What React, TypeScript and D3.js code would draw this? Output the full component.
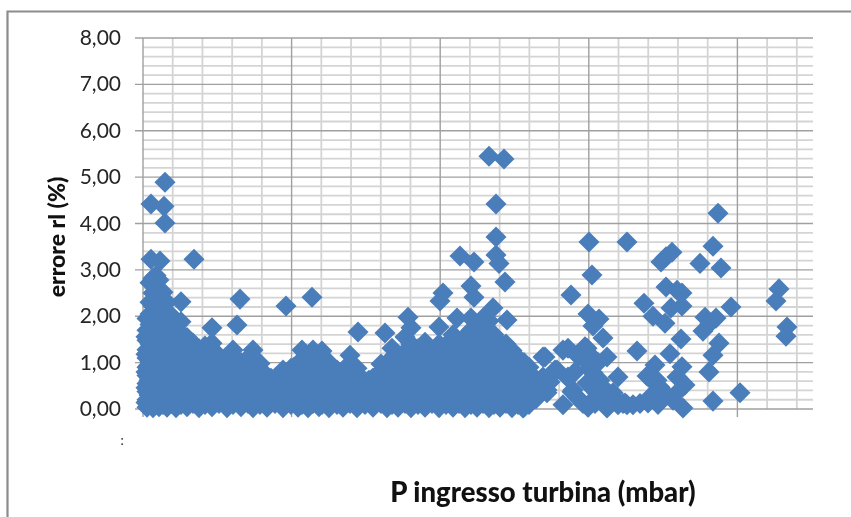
import React from "react";
import * as d3 from "d3";

const W = 851, H = 517;
const yTicks = [0, 1, 2, 3, 4, 5, 6, 7, 8];
const xDomain = [0, 670];
const xMinorStep = 29.72;
const xTitle = "P ingresso turbina (mbar)";
const yTitle = "errore rl (%)";

// sparse points: [P, errore]
const sparsePoints: number[][] = [
  [22,4.89],[8,4.42],[21,4.37],[22,4.01],[8,3.23],[17,3.19],[51,3.23],[97,2.37],[38,2.31],[94,1.81],[69,1.75],
  [346,5.45],[361,5.39],[353,4.42],[353,3.71],[353,3.32],[356,3.14],[317,3.30],[331,3.17],[362,2.74],[300,2.50],[297,2.33],
  [328,2.65],[331,2.41],[350,2.18],[364,1.92],[265,1.98],[314,1.96],[143,2.22],[169,2.41],[215,1.66],[242,1.64],
  [446,3.60],[484,3.60],[449,2.89],[428,2.46],[445,2.05],[456,1.94],[450,1.79],[460,1.53],[494,1.25],
  [575,4.22],[570,3.51],[557,3.14],[578,3.04],[529,3.38],[523,3.28],[518,3.17],[523,2.63],[534,2.56],[539,2.50],
  [501,2.28],[528,2.18],[539,2.22],[510,2.0],[522,1.85],[538,1.51],[562,1.98],[573,1.96],[567,1.85],[560,1.68],
  [588,2.2],[576,1.42],[570,1.16],[566,0.80],[570,0.17],[597,0.35],[636,2.59],[633,2.33],[644,1.77],[643,1.57],
  [420,1.27],[425,1.31],[442,1.34],[464,1.12],[455,1.0],[475,0.69],[425,0.67],[420,0.09],[445,0.04],[464,0.02],
  [484,0.09],[490,0.09],[475,0.09],[505,0.13],[540,0.02],[504,0.71],[512,0.95],[527,1.19],[539,0.91],[542,0.52],
  [517,0.47],[507,0.26],[520,0.3],[530,0.19],[534,0.35],[429,0.37],[434,0.26],[450,0.78],[444,0.56],[460,0.47],
  [470,0.35],[454,0.26],[400,1.12],[412,0.84],[407,0.58],[404,0.35],[390,0.26],[380,0.02],[447,1.0],[436,1.12],
  [432,0.8],[440,0.12],[452,0.12],[466,0.2],[480,0.12],[497,0.12],[515,0.1],[510,0.6],
  [444,1.31],[452,1.06],[440,1.12],[402,1.12],[400,0.69],[414,0.84],[404,0.41],[430,0.41],[425,0.69],[447,0.9],
  [447,0.56],[457,0.62],[470,0.26],[447,0.13],[454,0.34],[437,0.19],[482,0.13],[514,0.62],[519,0.41],[534,0.69],
];

// dense cloud, by column: [P, errore, errore, ...]
const denseColumns: number[][] = [
  [4,.04,.2,.38,.55,.72,.9,1.1,1.28,1.48,1.7,1.95],
  [7,.1,.3,.48,.66,.84,1.02,1.22,1.4,1.6,1.82,2.05,2.3,2.72],
  [10,.03,.22,.42,.6,.8,.98,1.16,1.34,1.56,1.78,2,2.22,2.5,2.82],
  [13,.12,.32,.52,.7,.9,1.08,1.3,1.5,1.72,1.94,2.16,2.38,2.62,2.88],
  [16,.05,.25,.45,.65,.85,1.05,1.25,1.45,1.66,1.88,2.1,2.34,2.55,2.78],
  [20,.1,.3,.55,.8,1.0,1.22,1.44,1.68,1.9,2.12,2.35,2.52],
  [24,.04,.28,.5,.74,.96,1.18,1.4,1.6,1.82,2.05,2.3],
  [28,.12,.36,.6,.85,1.1,1.34,1.58,1.82,2.02],
  [33,.03,.28,.52,.78,1.02,1.28,1.52,1.74,1.9],
  [38,.1,.36,.62,.88,1.14,1.4,1.6,1.88],
  [44,.05,.3,.56,.82,1.08,1.34,1.54],
  [50,.12,.38,.64,.9,1.16,1.42],
  [56,.03,.28,.54,.8,1.06,1.3],
  [62,.1,.36,.62,.88,1.1,1.36],
  [69,.05,.3,.56,.82,1.08,1.42],
  [76,.12,.38,.64,.9,1.15],
  [84,.03,.28,.54,.8,1.08],
  [90,.1,.36,.62,.88,1.27],
  [98,.05,.3,.56,.8,1.0],
  [105,.12,.36,.6,.86,1.1],
  [110,.03,.28,.54,.8,1.27],
  [117,.1,.34,.6,.98],
  [124,.04,.26,.48,.68],
  [132,.12,.34,.6],
  [140,.03,.26,.5,.84],
  [148,.1,.34,.6,.88],
  [155,.04,.28,.52,.78,.98],
  [159,.1,.36,.62,.9,1.27],
  [165,.03,.26,.52,.8,1.04],
  [170,.12,.36,.62,.9,1.27],
  [176,.05,.3,.54,.8,1.05],
  [179,.1,.34,.6,.85,1.25],
  [186,.03,.28,.52,.8,1.0],
  [194,.1,.34,.6,.84],
  [200,.04,.26,.5,.76],
  [207,.12,.36,.62,1.16],
  [214,.03,.28,.52,.88],
  [222,.1,.34,.58],
  [230,.04,.26,.5,.67],
  [238,.12,.36,.6,.97],
  [244,.03,.28,.52,.67],
  [249,.1,.34,.6,.9,1.31],
  [255,.04,.28,.54,.8,1.16],
  [262,.12,.36,.62,.9,1.2,1.55],
  [268,.03,.28,.54,.82,1.1,1.4,1.75],
  [275,.1,.36,.62,.9,1.14,1.3],
  [282,.04,.3,.56,.84,1.1,1.44],
  [289,.12,.38,.64,.9,1.1],
  [296,.03,.28,.54,.82,1.1,1.4,1.77],
  [303,.1,.36,.62,.9,1.16,1.38],
  [310,.04,.3,.56,.84,1.1,1.36,1.6],
  [316,.12,.38,.64,.9,1.16,1.4],
  [322,.03,.28,.54,.8,1.06,1.32,1.56],
  [328,.1,.36,.62,.88,1.14,1.4,1.7,1.96],
  [334,.04,.3,.56,.82,1.08,1.34,1.6,1.8],
  [340,.12,.38,.64,.9,1.16,1.42,1.68,1.96],
  [346,.03,.28,.54,.8,1.06,1.32,1.6,1.9],
  [351,.1,.36,.62,.88,1.14,1.4,1.6],
  [357,.04,.3,.56,.82,1.08,1.34],
  [363,.12,.38,.64,.9,1.16,1.4],
  [369,.03,.28,.54,.8,1.04,1.26],
  [375,.1,.36,.62,.9,1.1],
  [381,.04,.1,.28,.5,.8,1.0],
  [386,.1,.34,.56,.9],
  [393,.22,.42,.64],
];

// extra readings that fill the cloud between the columns above
const fillColumns: number[][] = [
  [3,.14,.46,.8,1.18,1.56],[6,.3,.62,.95,1.3],[12,.16,.5,.84,1.2],[18,.18,.54,.92,1.34],[22,.2,.44,.86,1.3],
  [26,.14,.42,.7,1.0,1.3],[31,.18,.44,.68,.92,1.18],[36,.2,.5,.76,1.02,1.28],[41,.22,.48,.74,1.0,1.26],
  [47,.18,.46,.72,.98,1.24],[53,.2,.48,.74,1.0],[59,.18,.46,.74,.98,1.2],[66,.2,.44,.7,.96],[73,.22,.48,.74,1.0],
  [80,.16,.42,.68,.94],[87,.2,.46,.72,1.0],[94,.18,.44,.68,.94],[101,.22,.46,.7,.94],[107,.18,.44,.7,.96],
  [114,.2,.46,.72],[120,.16,.38,.58,.8],[128,.2,.44,.66],[136,.16,.4,.66],[144,.18,.44,.7],[151,.2,.46,.7,.9],
  [157,.18,.42,.74],[162,.14,.44,.7,.98],[168,.2,.44,.72],[173,.22,.46,.72,.98],[182,.2,.44,.7,.92],
  [190,.16,.42,.66,.9],[197,.2,.46,.72],[204,.18,.4,.64,.92],[210,.2,.44,.7,.84],[218,.18,.42,.68],
  [226,.18,.42,.62],[234,.2,.44,.72],[241,.18,.44,.72],[247,.2,.46,.78,1.06],[252,.18,.44,.7,1.0],
  [258,.2,.48,.76,1.04],[265,.2,.46,.72,1.0,1.3],[271,.18,.44,.72,1.0,1.22],[278,.2,.48,.76,1.02,1.24],
  [285,.22,.46,.74,1.0,1.22],[292,.18,.44,.72,1.0,1.26],[299,.2,.46,.74,1.02,1.28],[306,.2,.48,.76,1.02,1.28],
  [313,.22,.5,.76,1.02,1.26],[319,.2,.46,.72,.98,1.26],[325,.18,.46,.74,1.0,1.26],[331,.2,.48,.74,1.0,1.28,1.56],
  [337,.22,.46,.72,.98,1.24,1.5,1.72],[343,.2,.46,.72,.98,1.24,1.54],[349,.18,.46,.72,1.0,1.26,1.5],
  [354,.22,.48,.74,1.0,1.26,1.48],[360,.2,.46,.72,.98,1.24],[366,.2,.46,.72,.96,1.18],[372,.2,.46,.72,.98],
  [378,.2,.44,.68,.92],[384,.18,.42,.7],[390,.42,.6],
];

const markerColor = "#4a7ebb";

export default function App() {
  const x = d3.scaleLinear().domain(xDomain).range([143, 813]);
  const y = d3.scaleLinear().domain([0, 8]).range([409, 38]);
  const xGrid = d3.range(0, 23).map((i) => i * xMinorStep);
  const yGrid = d3.range(0, 41).map((i) => i * 0.2);
  const diamond = d3.symbol().type(d3.symbolSquare).size(222)();
  const points: number[][] = [
    ...[...denseColumns, ...fillColumns].flatMap((c) => c.slice(1).map((v) => [c[0], v])),
    ...sparsePoints,
  ];
  return (
    <svg
      width={W}
      height={H}
      viewBox={`0 0 ${W} ${H}`}
      style={{ position: "absolute", left: 0, top: 0, background: "#fff", filter: "blur(0.45px)" }}
    >
      <path d={`M7.5,${H}V11.5H${W}`} fill="none" stroke="#8c8c8c" strokeWidth={2.2} />
      <g>
        {yGrid.filter((_, i) => i % 5 !== 0).map((v) => (
          <line key={v} x1={143} x2={813} y1={y(v)} y2={y(v)} stroke="#d4d4d4" strokeWidth={1.8} />
        ))}
        {xGrid.map((v, i) =>
          i % 5 !== 0 ? (
            <line key={v} x1={x(v)} x2={x(v)} y1={38} y2={409} stroke="#d4d4d4" strokeWidth={1.8} />
          ) : null
        )}
        {xGrid.map((v, i) =>
          i % 5 === 0 ? (
            <line key={v} x1={x(v)} x2={x(v)} y1={38} y2={417} stroke="#a0a0a0" strokeWidth={1.4} />
          ) : null
        )}
        {yTicks.map((v) => (
          <line key={v} x1={135} x2={813} y1={y(v)} y2={y(v)} stroke="#a0a0a0" strokeWidth={1.4} />
        ))}
      </g>
      <g fill={markerColor}>
        {points.map((p, i) => (
          <path key={i} d={diamond!} transform={`translate(${x(p[0])},${y(p[1])}) rotate(45)`} />
        ))}
      </g>
      <g fontFamily="Lato, 'Open Sans', sans-serif" fill="#262626">
        {yTicks.map((v) => (
          <text key={v} x={121} y={y(v) + 7} textAnchor="end" fontSize={21}>
            {d3.format(".2f")(v).replace(".", ",")}
          </text>
        ))}
        <text x={122} y={445} textAnchor="middle" fontSize={13}>:</text>
      </g>
      <g fontFamily="Lato, 'Open Sans', sans-serif" fontWeight={900} fill="#111">
        <text transform="translate(65,237) rotate(-90)" textAnchor="middle" fontSize={23}>{yTitle}</text>
        <text x={543} y={502} textAnchor="middle" fontSize={27.5}>{xTitle}</text>
      </g>
    </svg>
  );
}
